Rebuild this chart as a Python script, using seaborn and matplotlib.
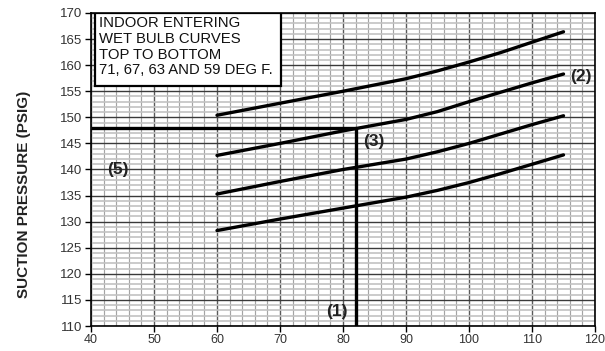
import matplotlib
matplotlib.use("Agg")
import matplotlib.pyplot as plt
from matplotlib.patches import Rectangle
from matplotlib.ticker import MultipleLocator
import seaborn as sns
import pandas as pd

# ---- data ----
temps = [60, 70, 80, 90, 95, 100, 105, 110, 115]
wb71 = [150.4, 152.7, 155.0, 157.4, 158.9, 160.6, 162.4, 164.4, 166.4]
wb67 = [142.7, 145.0, 147.4, 149.6, 151.1, 153.0, 154.8, 156.6, 158.3]
wb63 = [135.3, 137.7, 140.0, 142.0, 143.4, 145.0, 146.8, 148.6, 150.3]
wb59 = [128.3, 130.5, 132.6, 134.7, 136.0, 137.5, 139.2, 141.0, 142.8]
curve_names = ["71", "67", "63", "59"]
ref_x = [40, 82, 82]
ref_y = [148, 148, 110]
box_lines = ["INDOOR ENTERING", "WET BULB CURVES", "TOP TO BOTTOM", "71, 67, 63 AND 59 DEG F."]
callouts = ["(1)", "(2)", "(3)", "(5)"]
callout_x = [79.1, 117.7, 84.9, 44.3]
callout_y = [112.7, 157.9, 145.3, 140.0]
x_ticks = [40, 50, 60, 70, 80, 90, 100, 110, 120]
y_ticks = [110, 115, 120, 125, 130, 135, 140, 145, 150, 155, 160, 165, 170]
y_label = "SUCTION PRESSURE (PSIG)"

rows = []
for name, vals in zip(curve_names, [wb71, wb67, wb63, wb59]):
    for t, v in zip(temps, vals):
        rows.append({"temp": t, "psig": v, "wb": name})
df = pd.DataFrame(rows)

sns.set_theme(style="white")
plt.rcParams["font.family"] = ["Liberation Sans", "DejaVu Sans"]

fig = plt.figure(figsize=(6.05, 3.51), dpi=100)
ax = fig.add_axes([0.1504, 0.0712, 0.8331, 0.8918])

ax.set_xlim(40, 120)
ax.set_ylim(110, 170)
ax.xaxis.set_minor_locator(MultipleLocator(2))
ax.yaxis.set_minor_locator(MultipleLocator(1))
ax.grid(which="minor", axis="y", color="#c2c2c2", linewidth=1.2, zorder=0)
ax.grid(which="minor", axis="x", color="#a4a4a4", linewidth=0.85, zorder=0)
ax.grid(which="major", axis="x", color="#5a5a5a", linewidth=1.0, zorder=0)
ax.grid(which="major", axis="y", color="#3a3a3a", linewidth=1.0, zorder=0)
ax.set_axisbelow(True)

sns.lineplot(data=df, x="temp", y="psig", hue="wb", palette=["black"] * 4,
             linewidth=2.4, legend=False, ax=ax, sort=True)
ax.plot(ref_x, ref_y, color="black", linewidth=2.4, solid_capstyle="butt", zorder=3)

ax.set_xticks(x_ticks)
ax.set_yticks(y_ticks)
ax.tick_params(which="major", direction="out", length=4, width=1, color="black",
               labelcolor="#333333", bottom=True, left=True, pad=2)
ax.tick_params(axis="x", which="major", labelsize=9)
ax.tick_params(axis="y", which="major", labelsize=9.5)
ax.tick_params(which="minor", length=0)
ax.set_xlabel("")
ax.set_ylabel(y_label, fontsize=11, fontweight="bold", color="#222222")
ax.yaxis.set_label_coords(-0.12, 0.42)

for s in ax.spines.values():
    s.set_color("black")
    s.set_linewidth(1.2)

ax.add_patch(Rectangle((40.63, 156.0), 29.5, 14.0, facecolor="white",
                       edgecolor="black", linewidth=1.6, zorder=4))
ax.text(41.3, 169.4, "\n".join(box_lines), fontsize=10.7, va="top", ha="left",
        linespacing=1.16, color="#111111", zorder=5)

for lab, cx, cy in zip(callouts, callout_x, callout_y):
    ax.text(cx, cy, lab, fontsize=12.5, fontweight="bold", ha="center", va="center",
            color="#222222", zorder=5)

fig.savefig("out.png", dpi=100)
